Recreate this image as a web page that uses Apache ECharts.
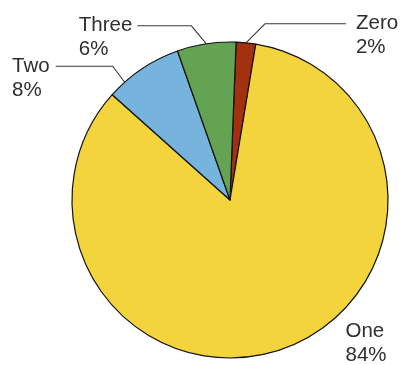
<!DOCTYPE html>
<html><head><meta charset="utf-8">
<script src="https://cdn.jsdelivr.net/npm/echarts@6/dist/echarts.min.js"></script>
<style>html,body{margin:0;padding:0;background:#fff}#c{width:402px;height:365px}</style>
</head><body><div id="c"></div>
<script>
const categories = ['Zero', 'One', 'Two', 'Three'];
const values = [2, 84, 8, 6];
const percentLabels = ['2%', '84%', '8%', '6%'];
const colors = ['#a3300f', '#f3d43d', '#76b4de', '#64a354'];

const CX = 230, CY = 200, R = 158, START = 87.8;
const labelCfg = {
  Zero:  { diag: [19, -19], horiz: 81, gap: 10 },
  Three: { diag: [-15, -18], horiz: -54, gap: 5 },
  Two:   { angleShift: -8, diag: [-12, -16], horiz: -57, gap: 6 },
  One:   { offset: [63, -18] }
};
const LH = 24;
const total = values.reduce((a, b) => a + b, 0);

function anchor(i, shift) {
  let cum = 0;
  for (let k = 0; k < i; k++) cum += values[k];
  const th = ((90 - START) + (cum + values[i] / 2) / total * 360 + (shift || 0)) * Math.PI / 180;
  return [CX + R * Math.sin(th), CY - R * Math.cos(th)];
}

const chart = echarts.init(document.getElementById('c'), null, { renderer: 'canvas' });
chart.setOption({
  animation: false,
  series: [{
    type: 'pie',
    center: [CX, CY],
    radius: R,
    startAngle: START,
    clockwise: true,
    avoidLabelOverlap: false,
    data: categories.map((c, i) => ({
      name: c, value: values[i],
      itemStyle: { color: colors[i] },
      labelLine: { show: c !== 'One' }
    })),
    itemStyle: { borderColor: '#111', borderWidth: 1.2 },
    label: {
      show: true, position: 'outside',
      formatter: p => p.name + '\n' + percentLabels[p.dataIndex],
      fontFamily: 'Liberation Sans, Arial, sans-serif',
      fontSize: 20.5, lineHeight: LH, color: '#2e2e2e', align: 'left'
    },
    labelLine: { show: true, lineStyle: { color: '#3a3a3a', width: 1.1 } },
    emphasis: { disabled: true },
    labelLayout: function (p) {
      const i = p.dataIndex;
      const name = categories[i];
      const cfg = labelCfg[name];
      const a = anchor(i, cfg.angleShift);
      if (cfg.offset) {
        return { x: a[0] + cfg.offset[0], y: a[1] + cfg.offset[1] - LH / 2, align: 'left', verticalAlign: 'top' };
      }
      const d = [a[0] + cfg.diag[0], a[1] + cfg.diag[1]];
      const e = [d[0] + cfg.horiz, d[1]];
      const w = p.labelRect.width;
      const x = cfg.horiz > 0 ? e[0] + cfg.gap : e[0] - cfg.gap - w;
      return {
        x: x, y: e[1] - LH / 2, align: 'left', verticalAlign: 'top',
        labelLinePoints: [a, d, e]
      };
    }
  }]
});
</script></body></html>
